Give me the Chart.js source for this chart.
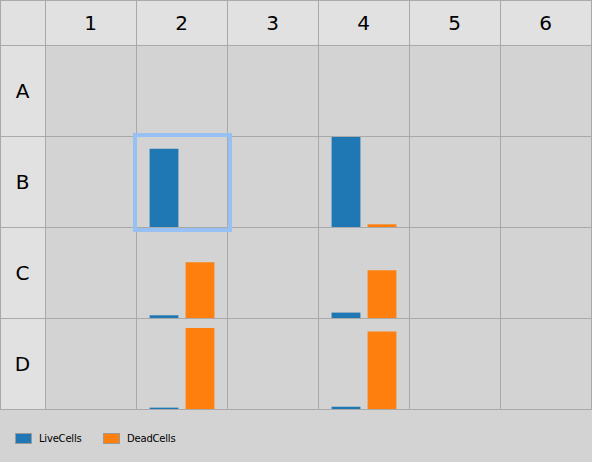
<!DOCTYPE html>
<html><head><meta charset="utf-8">
<script src="https://cdn.jsdelivr.net/npm/chart.js@4"></script>
<style>
html,body{margin:0;padding:0;background:#d3d3d3;}
#plate{position:relative;width:592px;height:462px;overflow:hidden;background:#d3d3d3;font-family:"DejaVu Sans",sans-serif;color:#000;}
.abs{position:absolute;}
.hdr{position:absolute;display:flex;align-items:center;justify-content:center;font-size:20px;}
.line{position:absolute;background:#a9a9a9;z-index:5;}
.leg{position:absolute;top:432px;height:12px;display:flex;align-items:center;font-size:10px;letter-spacing:-0.2px;font-family:"DejaVu Sans",sans-serif;}
.sw{width:15px;height:9px;border:1px solid #9a9a9a;margin-right:7px;}
</style></head>
<body><div id="plate"></div>
<script>
const columns = ['1','2','3','4','5','6'];
const rows = ['A','B','C','D'];
const seriesNames = ['LiveCells','DeadCells'];
const wells = ['B2','B4','C2','C4','D2','D4'];
const liveCells = [87, 100, 3, 6, 1.5, 2.5];
const deadCells = [0, 3, 62, 53, 90, 86];
const selectedWell = 'B2';

const seriesColors = ['#1f77b4','#ff7f0e'];
const HEADER = 45, CELL = 91;
const yMax = Math.max(...liveCells, ...deadCells);

const plate = document.getElementById('plate');
function el(cls, css, text){
  const d=document.createElement('div'); d.className=cls;
  Object.assign(d.style, css); if(text!==undefined) d.textContent=text;
  plate.appendChild(d); return d;
}
const gridW = HEADER + columns.length*CELL;
const gridH = HEADER + rows.length*CELL;
el('abs',{left:'0px',top:'0px',width:(gridW+1)+'px',height:HEADER+'px',background:'#e1e1e1'});
el('abs',{left:'0px',top:'0px',width:HEADER+'px',height:gridH+'px',background:'#e1e1e1'});
columns.forEach((c,i)=>el('hdr',{left:(HEADER+i*CELL)+'px',top:'0px',width:CELL+'px',height:HEADER+'px'},c));
rows.forEach((r,i)=>el('hdr',{left:'0px',top:(HEADER+i*CELL)+'px',width:HEADER+'px',height:CELL+'px'},r));
const xs=[0]; for(let i=0;i<=columns.length;i++) xs.push(HEADER+i*CELL);
const ys=[0]; for(let i=0;i<=rows.length;i++) ys.push(HEADER+i*CELL);
xs.forEach(x=>el('line',{left:x+'px',top:'0px',width:'1px',height:(gridH+1)+'px'}));
ys.forEach(y=>el('line',{left:'0px',top:y+'px',width:(gridW+1)+'px',height:'1px'}));

wells.forEach((w,i)=>{
  const r = rows.indexOf(w[0]), c = columns.indexOf(w.slice(1));
  const cv = document.createElement('canvas');
  cv.width = CELL-1; cv.height = CELL-1;
  Object.assign(cv.style,{position:'absolute',left:(HEADER+c*CELL+1)+'px',top:(HEADER+r*CELL+1)+'px',width:(CELL-1)+'px',height:(CELL-1)+'px',zIndex:3});
  plate.appendChild(cv);
  new Chart(cv,{
    type:'bar',
    data:{labels:[w],datasets:[
      {label:seriesNames[0],data:[liveCells[i]],backgroundColor:seriesColors[0]},
      {label:seriesNames[1],data:[deadCells[i]],backgroundColor:seriesColors[1]}
    ]},
    options:{
      responsive:false,animation:false,events:[],
      layout:{padding:0},
      datasets:{bar:{categoryPercentage:0.8,barPercentage:0.8,borderWidth:0}},
      plugins:{legend:{display:false},tooltip:{enabled:false}},
      scales:{x:{display:false},y:{display:false,min:0,max:yMax}}
    }
  });
});

{
  const r = rows.indexOf(selectedWell[0]), c = columns.indexOf(selectedWell.slice(1));
  el('abs',{left:(HEADER+c*CELL-3)+'px',top:(HEADER+r*CELL-3)+'px',width:CELL+'px',height:CELL+'px',border:'4px solid #97c1f5',zIndex:8});
}

const legX=[15,103];
seriesNames.forEach((n,i)=>{
  const d=el('leg',{left:legX[i]+'px'});
  const s=document.createElement('div'); s.className='sw'; s.style.background=seriesColors[i];
  const t=document.createElement('span'); t.textContent=n;
  d.appendChild(s); d.appendChild(t);
});
</script>
</body></html>
